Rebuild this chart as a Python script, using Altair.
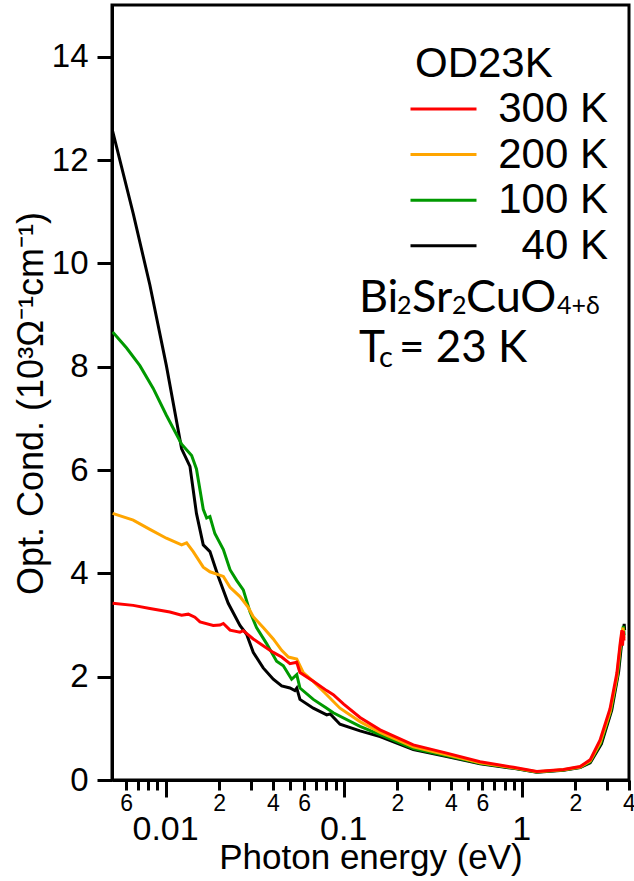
import altair as alt
import pandas as pd

# ---------------- data ----------------
series_names = ["300 K", "200 K", "100 K", "40 K"]
series_colors = ["#ff0000", "#ffa500", "#009900", "#000000"]

e_300 = [0.00504, 0.00658, 0.00816, 0.01057, 0.0123, 0.0134, 0.0146, 0.0156, 0.0185, 0.0202,
         0.0211, 0.023, 0.02615, 0.0273, 0.03105, 0.03532, 0.04022, 0.04485, 0.0499, 0.0545,
         0.0568, 0.0675, 0.0803, 0.0874, 0.1, 0.1235, 0.16, 0.246, 0.379, 0.583, 0.898, 1.214,
         1.713, 2.126, 2.42, 2.75, 3.13, 3.42, 3.57, 3.65, 3.68, 3.72, 3.75]
s_300 = [3.42, 3.38, 3.32, 3.25, 3.19, 3.21, 3.15, 3.06, 2.99, 3.00,
         3.03, 2.90, 2.86, 2.89, 2.73, 2.60, 2.47, 2.38, 2.25, 2.28,
         2.08, 1.91, 1.73, 1.65, 1.47, 1.21, 0.97, 0.68, 0.52, 0.355, 0.245, 0.165,
         0.205, 0.26, 0.39, 0.77, 1.38, 2.07, 2.65, 2.90, 2.60, 2.88, 2.70]

e_200 = [0.00504, 0.00658, 0.00816, 0.0101, 0.0123, 0.01312, 0.01429, 0.01627, 0.01774, 0.0211,
         0.023, 0.02615, 0.0291, 0.03105, 0.03532, 0.04022, 0.04485, 0.0489, 0.0545, 0.0593,
         0.0675, 0.0803, 0.0953, 0.1235, 0.16, 0.246, 0.379, 0.583, 0.898, 1.214,
         1.713, 2.126, 2.42, 2.75, 3.13, 3.42, 3.6, 3.7, 3.75]
s_200 = [5.16, 5.03, 4.85, 4.68, 4.55, 4.59, 4.42, 4.12, 4.03, 3.94,
         3.73, 3.55, 3.34, 3.16, 2.95, 2.73, 2.51, 2.38, 2.34, 2.08,
         1.91, 1.65, 1.39, 1.13, 0.92, 0.64, 0.49, 0.335, 0.235, 0.16,
         0.20, 0.25, 0.37, 0.72, 1.32, 2.00, 2.70, 2.95, 2.75]

e_100 = [0.00504, 0.00604, 0.00717, 0.00852, 0.0101, 0.0123, 0.014, 0.0149, 0.01627, 0.017,
         0.01774, 0.0189, 0.0211, 0.023, 0.0251, 0.0273, 0.0298, 0.0324, 0.0369, 0.042,
         0.0458, 0.051, 0.0545, 0.0568, 0.0675, 0.0803, 0.0874, 0.1235, 0.16, 0.246,
         0.379, 0.583, 0.898, 1.214, 1.713, 2.126, 2.42, 2.78, 3.17, 3.46, 3.62, 3.72, 3.76]
s_100 = [8.67, 8.36, 8.02, 7.58, 7.06, 6.50, 6.28, 6.02, 5.24, 5.07,
         5.10, 4.77, 4.46, 4.07, 3.86, 3.68, 3.25, 2.95, 2.64, 2.30,
         2.21, 1.95, 2.04, 1.78, 1.56, 1.39, 1.30, 1.04, 0.88, 0.61,
         0.47, 0.325, 0.23, 0.155, 0.195, 0.245, 0.35, 0.72, 1.35, 2.05, 2.70, 2.98, 2.80]

e_40 = [0.00504, 0.00658, 0.00816, 0.0101, 0.0123, 0.0137, 0.0149, 0.01627, 0.01774, 0.01975,
        0.02247, 0.02615, 0.0285, 0.03105, 0.03532, 0.04022, 0.04485, 0.0499, 0.0532, 0.0545,
        0.0568, 0.0675, 0.0803, 0.084, 0.0953, 0.1235, 0.16, 0.246, 0.379, 0.583,
        0.898, 1.214, 1.713, 2.126, 2.42, 2.8, 3.2, 3.5, 3.65, 3.76, 3.78]
s_40 = [12.56, 10.96, 9.58, 8.02, 6.41, 6.07, 5.16, 4.55, 4.42, 3.94,
        3.42, 2.99, 2.82, 2.47, 2.17, 1.95, 1.82, 1.78, 1.73, 1.78,
        1.56, 1.39, 1.26, 1.28, 1.08, 0.95, 0.84, 0.59, 0.455, 0.315,
        0.225, 0.15, 0.19, 0.24, 0.33, 0.70, 1.35, 2.10, 2.70, 3.02, 2.90]

x_tick_values = [0.006, 0.007, 0.008, 0.009, 0.01, 0.02, 0.03, 0.04, 0.05, 0.06, 0.07, 0.08, 0.09,
                 0.1, 0.2, 0.3, 0.4, 0.5, 0.6, 0.7, 0.8, 0.9, 1, 2, 3, 4]
x_minor_labeled = [0.006, 0.02, 0.04, 0.06, 0.2, 0.4, 0.6, 2, 4]
x_minor_text = ["6", "2", "4", "6", "2", "4", "6", "2", "4"]
x_major_values = [0.01, 0.1, 1]
x_major_text = ["0.01", "0.1", "1"]
y_tick_values = [0, 2, 4, 6, 8, 10, 12, 14]
legend_title = "OD23K"

# ---------------- build table ----------------
rows = []
for name, es, ss in [("40 K", e_40, s_40), ("100 K", e_100, s_100),
                     ("200 K", e_200, s_200), ("300 K", e_300, s_300)]:
    for e, s in zip(es, ss):
        rows.append({"series": name, "energy": e, "sigma": s})
df = pd.DataFrame(rows)

W, H = 517, 775
FONT = "Liberation Sans"
TFONT = "Lato"

label_expr = " : ".join(
    f"abs(datum.value - {v}) < 1e-9 ? '{t}'" for v, t in zip(x_minor_labeled, x_minor_text)
) + " : ''"
major_test = " || ".join(f"abs(datum.value - {v}) < 1e-9" for v in x_major_values)

x_scale = alt.Scale(type="log", domain=[0.005, 4], nice=False)
y_scale = alt.Scale(domain=[0, 15], nice=False)

lines = alt.Chart(df).mark_line(strokeWidth=3, clip=True).encode(
    x=alt.X("energy:Q", scale=x_scale,
            axis=alt.Axis(values=x_tick_values, labelExpr=label_expr, labelFontSize=23,
                          labelFont=FONT, labelPadding=2, labelColor="black",
                          tickSize={"condition": {"test": major_test, "value": 17}, "value": 10},
                          tickWidth=3, tickColor="black", domainWidth=3, domainColor="black",
                          grid=False, labelFlush=False, labelOverlap=False,
                          title="Photon energy (eV)", titleFont=FONT, titleFontSize=35,
                          titleFontWeight="normal", titleColor="black",
                          titleY=88, titleBaseline="alphabetic")),
    y=alt.Y("sigma:Q", scale=y_scale,
            axis=alt.Axis(values=y_tick_values, labelFontSize=33, labelFont=FONT,
                          labelPadding=9, labelColor="black", tickSize=15, tickWidth=3,
                          tickColor="black", domainWidth=3, domainColor="black", grid=False,
                          title="Opt. Cond. (10³Ω⁻¹cm⁻¹)", titleFont=FONT, titleFontSize=36,
                          titleFontWeight="normal", titleColor="black", titleAngle=270,
                          titleX=-70, titleY=398, titleBaseline="alphabetic",
                          titleAlign="center")),
    color=alt.Color("series:N",
                    scale=alt.Scale(domain=series_names, range=series_colors),
                    legend=alt.Legend(title=None, orient="none", legendX=297,
                                      legendY=84, symbolType="stroke", symbolSize=4356,
                                      symbolStrokeWidth=3, labelFontSize=42,
                                      labelFont=FONT, labelColor="black",
                                      labelAlign="right", labelOffset=130,
                                      rowPadding=3.6, padding=0,
                                      clipHeight=40, labelLimit=0)),
)

major_df = pd.DataFrame({"energy": x_major_values, "lab": x_major_text})
major_labels = alt.Chart(major_df).mark_text(
    font=FONT, fontSize=34, baseline="alphabetic", align="center", color="black"
).encode(
    x=alt.X("energy:Q", scale=x_scale),
    y=alt.value(835),
    text="lab:N",
)

def txt(s, x, y, size, font=TFONT):
    return alt.Chart(pd.DataFrame({"t": [s]})).mark_text(
        font=font, fontSize=size, align="left", baseline="alphabetic", color="black"
    ).encode(x=alt.value(x), y=alt.value(y), text="t:N")

MAIN = 45
SUB = 25
annot = [
    txt(legend_title, 415 - 112, 72, 42, FONT),
    txt("Bi", 359 - 112, 307, MAIN),
    txt("2", 397 - 112, 309, SUB),
    txt("Sr", 412 - 112, 307, MAIN),
    txt("2", 452 - 112, 309, SUB),
    txt("CuO", 466 - 112, 307, MAIN),
    txt("4+δ", 557 - 112, 309, SUB),
    txt("T", 359 - 112, 357, 44),
    txt("c", 379 - 112, 362, 29),
    txt("= 23 K", 399 - 112, 357, 44),
]

chart = alt.layer(lines, major_labels, *annot).properties(
    width=W, height=H,
    autosize=alt.AutoSizeParams(type="none"),
    padding={"left": 112, "top": 5, "right": 5, "bottom": 101},
).configure(
    background="white",
    view=alt.ViewConfig(stroke="black", strokeWidth=3),
)

chart.save("out.html", embed_options={"renderer": "svg", "actions": False})
